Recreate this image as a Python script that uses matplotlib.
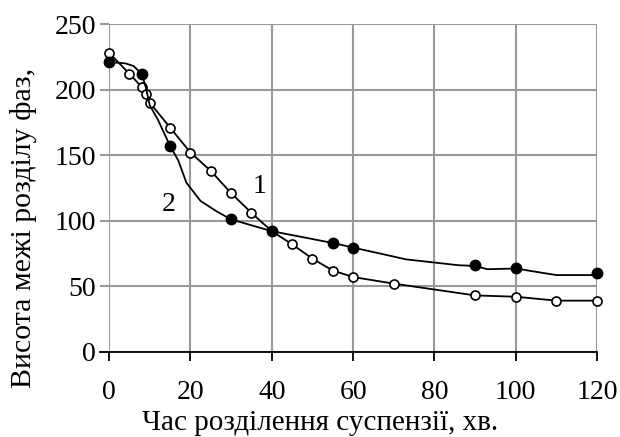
import numpy as np
import matplotlib.pyplot as plt

plt.rcParams['font.family'] = ['Liberation Serif', 'DejaVu Serif']

# Крива 1 (світлі маркери)
t1 = [0, 5, 8, 9, 10, 15, 20, 25, 30, 35, 40, 45, 50, 55, 60, 70, 90, 100, 110, 120]
h1 = [228, 212, 202, 197, 190, 171, 152, 138, 121, 106, 92, 82, 71, 62, 57, 52, 43, 42, 39, 39]

# Крива 2 (темні маркери)
t2 = [0, 8, 15, 30, 40, 55, 60, 90, 100, 120]
h2 = [221, 212, 157, 101, 92, 83, 79.5, 66, 64, 60]

# хід лінії 2
t2_line = [0, 4, 6, 8, 9, 10, 12, 15, 17, 19, 22.5, 26.5, 30, 40, 55, 60, 68, 73, 86, 90, 93, 100, 110, 120]
h2_line = [221, 220, 218, 212, 202, 188, 177, 157, 146, 129, 115, 107, 101, 92, 83, 79.5, 74, 70.5, 66, 65.5, 63, 63.5, 58.5, 58.5]

xticks = [0, 20, 40, 60, 80, 100, 120]
yticks = [0, 50, 100, 150, 200, 250]

fig = plt.figure(figsize=(6.2, 4.37), dpi=100)
ax = fig.add_axes([0.176, 0.195, 0.787, 0.75])

ax.plot(t1, h1, color='black', lw=1.3, marker='o', ms=6.5, mfc='white', mec='black', mew=1.2,
        clip_on=False, zorder=3)
ax.plot(t2_line, h2_line, color='black', lw=1.3, clip_on=False, zorder=3)
ax.plot(t2, h2, ls='none', marker='o', ms=7.5, mfc='black', mec='black', clip_on=False, zorder=4)

ax.text(37, 126, '1', fontsize=20, ha='center', va='center')
ax.text(14.6, 112, '2', fontsize=20, ha='center', va='center')

ax.set_xlim(0, 120)
ax.set_ylim(0, 250)
ax.set_xticks(xticks)
ax.set_yticks(yticks)
ax.grid(True, color='#999999', lw=1.5)
ax.set_axisbelow(True)

for s in ['top', 'right', 'left']:
    ax.spines[s].set_visible(False)
ax.spines['bottom'].set_color('black')
ax.spines['bottom'].set_linewidth(1.3)
ax.spines['bottom'].set_bounds(-2.2, 120)

ax.tick_params(axis='x', direction='out', length=6.5, width=1.3, color='black', labelsize=20, pad=14)
ax.tick_params(axis='y', direction='out', length=6.5, width=1.5, color='#999999', labelsize=20, pad=3)

ax.set_xlabel('Час розділення суспензії, хв.', fontsize=21)
ax.xaxis.set_label_coords(0.432, -0.178)
ax.xaxis.label.set_va('top')
ax.set_ylabel('Висота межі розділу фаз,', fontsize=21.5)
ax.yaxis.set_label_coords(-0.176, 0.377)
ax.yaxis.label.set_va('center')

fig.savefig('out.png', dpi=100)
